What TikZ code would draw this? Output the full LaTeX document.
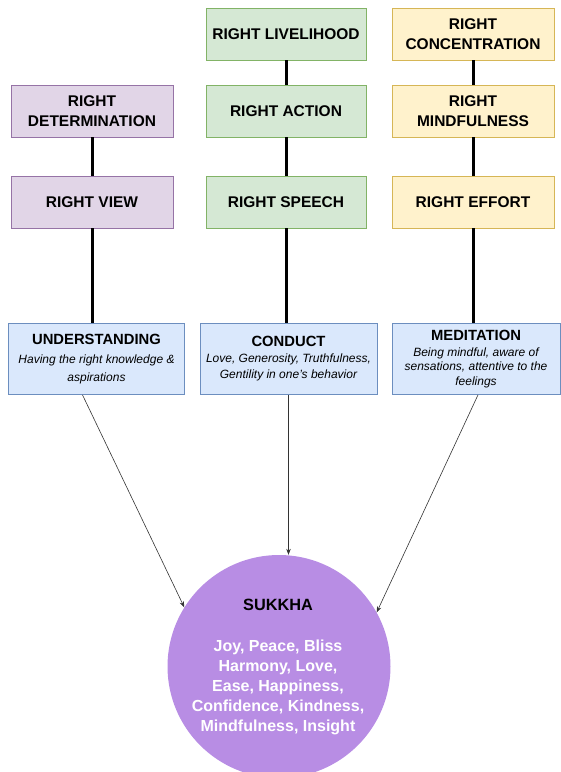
\documentclass[tikz,border=0pt]{standalone}
\usepackage{fontspec}
\setmainfont{Liberation Sans}
\usetikzlibrary{arrows.meta}

\definecolor{viewfill}{HTML}{E1D5E7}
\definecolor{viewline}{HTML}{9673A6}
\definecolor{conductfill}{HTML}{D5E8D4}
\definecolor{conductline}{HTML}{82B366}
\definecolor{medfill}{HTML}{FFF2CC}
\definecolor{medline}{HTML}{D6B656}
\definecolor{infofill}{HTML}{DAE8FC}
\definecolor{infoline}{HTML}{6C8EBF}
\definecolor{sukkhafill}{HTML}{B88DE4}

\tikzset{
    pathbox/.style={draw, line width=0.8pt, minimum width=162pt, minimum height=52pt,
        inner sep=2pt, align=center, font=\fontsize{15.5}{20}\selectfont\bfseries},
    infobox/.style={draw=infoline, fill=infofill, line width=0.8pt, minimum height=71pt,
        inner sep=2pt, align=center, font=\fontsize{12}{16}\selectfont\itshape},
    pillar/.style={line width=3pt, black},
    flow/.style={draw=black!80, line width=0.6pt, -{Stealth[length=6pt,width=4.5pt]}}
}

\newcommand{\head}[1]{{\fontsize{14.8}{18}\selectfont\bfseries\upshape #1}}

\begin{document}
\begin{tikzpicture}[x=1pt,y=-1pt]

    % パラメータの定義
    \pgfmathsetmacro{\xa}{92}
    \pgfmathsetmacro{\xb}{286}
    \pgfmathsetmacro{\xc}{473}
    \pgfmathsetmacro{\ya}{34}
    \pgfmathsetmacro{\yb}{111}
    \pgfmathsetmacro{\yc}{202}
    \pgfmathsetmacro{\yd}{359}

    \useasboundingbox (0,0) rectangle (561,772);
    \clip (0,0) rectangle (561,772);

    % 八正道の箱
    \node[pathbox, draw=viewline, fill=viewfill] (determination) at (\xa,\yb) {RIGHT\\DETERMINATION};
    \node[pathbox, draw=viewline, fill=viewfill] (view) at (\xa,\yc) {RIGHT VIEW};
    \node[pathbox, draw=conductline, fill=conductfill, minimum width=160pt] (livelihood) at (\xb,\ya) {RIGHT LIVELIHOOD};
    \node[pathbox, draw=conductline, fill=conductfill, minimum width=160pt] (action) at (\xb,\yb) {RIGHT ACTION};
    \node[pathbox, draw=conductline, fill=conductfill, minimum width=160pt] (speech) at (\xb,\yc) {RIGHT SPEECH};
    \node[pathbox, draw=medline, fill=medfill] (concentration) at (\xc,\ya) {RIGHT\\CONCENTRATION};
    \node[pathbox, draw=medline, fill=medfill] (mindfulness) at (\xc,\yb) {RIGHT\\MINDFULNESS};
    \node[pathbox, draw=medline, fill=medfill] (effort) at (\xc,\yc) {RIGHT EFFORT};

    % 三つの柱
    \node[infobox, minimum width=176pt, font=\fontsize{12}{18}\selectfont\itshape] (understanding) at (96.5,\yd)
        {\head{UNDERSTANDING}\\[1pt]Having the right knowledge \&\\aspirations};
    \node[infobox, minimum width=177pt] (conduct) at (288.5,\yd)
        {\head{CONDUCT}\\[0pt]Love, Generosity, Truthfulness,\\Gentility in one's behavior};
    \node[infobox, minimum width=168pt, font=\fontsize{12}{14.7}\selectfont\itshape] (meditation) at (476,\yd)
        {\head{MEDITATION}\\[1pt]Being mindful, aware of\\sensations, attentive to the\\feelings};

    % 円
    \node[circle, fill=sukkhafill, minimum size=223pt, inner sep=0pt] (sukkha) at (279,666.5) {};
    \node[align=center, font=\fontsize{16}{20}\selectfont\bfseries, text=white] (sukkhatext) at (278,667)
        {{\fontsize{16.3}{20}\selectfont\color{black}SUKKHA}\\[21pt]
         Joy, Peace, Bliss\\Harmony, Love,\\Ease, Happiness,\\Confidence, Kindness,\\Mindfulness, Insight};

    % 線の描画
    \draw[pillar] (determination) -- (view);
    \draw[pillar] (view.south) -- (view.south |- understanding.north);
    \draw[pillar] (livelihood) -- (action);
    \draw[pillar] (action) -- (speech);
    \draw[pillar] (speech.south) -- (speech.south |- conduct.north);
    \draw[pillar] (concentration) -- (mindfulness);
    \draw[pillar] (mindfulness) -- (effort);
    \draw[pillar] (effort.south) -- (effort.south |- meditation.north);

    % 矢印
    \draw[flow] ([xshift=-14pt]understanding.south) -- (sukkha.148);
    \draw[flow] (conduct.south) -- (conduct.south |- sukkha.north);
    \draw[flow] ([xshift=2pt]meditation.south) -- (sukkha.29);

\end{tikzpicture}
\end{document}
